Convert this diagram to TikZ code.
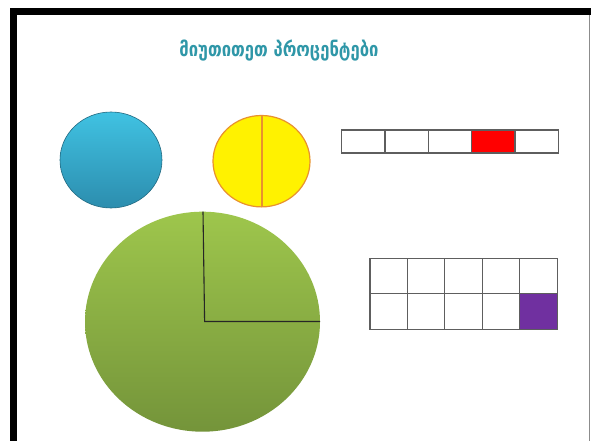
\documentclass[tikz,border=0pt]{standalone}
\usepackage{fontspec}
\newfontfamily\geofont{DejaVu Sans}
\definecolor{titleteal}{HTML}{2F97A8}
\definecolor{blueTop}{HTML}{40C2E2}
\definecolor{blueBot}{HTML}{2C8DAE}
\definecolor{greenTop}{HTML}{9EC64C}
\definecolor{greenBot}{HTML}{74943A}
\definecolor{yellowEdge}{HTML}{E8922E}
\definecolor{cellEdge}{HTML}{5E5E5E}
\definecolor{cellRed}{HTML}{FF0000}
\definecolor{cellPurple}{HTML}{7030A0}
\tikzset{
  cellbox/.style={draw=cellEdge, line width=1.1pt, fill=white},
  quarterline/.style={draw=black!85, line width=1.1pt},
  titletext/.style={font=\geofont\bfseries\fontsize{20}{22}\selectfont, inner sep=0pt},
}
\begin{document}
\begin{tikzpicture}[x=1pt,y=-1pt]
\useasboundingbox (0,0) rectangle (591,441);
\fill[white] (0,0) rectangle (591,441);
% frame
\fill[black] (10,8) rectangle (591,15.5);
\fill[black] (10,8) rectangle (17,441);
\draw[black!45, line width=1.2pt] (589.8,15.5) -- (589.8,441);
% title
\node[titletext, text=titleteal] (title) at (279,51) {\scalebox{0.83}[1]{მიუთითეთ პროცენტები}};
% blue circle
\shade[top color=blueTop, bottom color=blueBot, draw=blueBot!75!black, line width=0.6pt] (111,160) ellipse [x radius=51, y radius=48];
% yellow circle
\coordinate (ytop) at (262,115.5);
\coordinate (ybot) at (262,207);
\filldraw[fill=yellow, draw=yellowEdge, line width=1.2pt] (261.5,161.2) ellipse [x radius=48.5, y radius=45.7];
\draw[yellowEdge, line width=1.2pt] (ytop) -- (ybot);
% red bar
\foreach \i in {0,...,4} {
  \path[cellbox] (341.7+\i*43.32,130) rectangle ++(43.32,23);
}
\path[cellbox, fill=cellRed] (341.7+3*43.32,130) rectangle ++(43.32,23);
% purple grid
\foreach \i in {0,...,4} {
  \foreach \j in {0,1} {
    \path[cellbox] (370+\i*37.46,258.3+\j*35.5) rectangle ++(37.46,35.5);
  }
}
\path[cellbox, fill=cellPurple] (370+4*37.46,293.8) rectangle ++(37.46,35.5);
% green circle
\shade[top color=greenTop, bottom color=greenBot] (202.5,321.7) ellipse [x radius=117.5, y radius=110];
\coordinate (gtop) at (203,211.7);
\coordinate (gc) at (204.6,321.5);
\coordinate (gright) at (320,321.5);
\draw[quarterline] (gtop) -- (gc) -- (gright);
\end{tikzpicture}
\end{document}
